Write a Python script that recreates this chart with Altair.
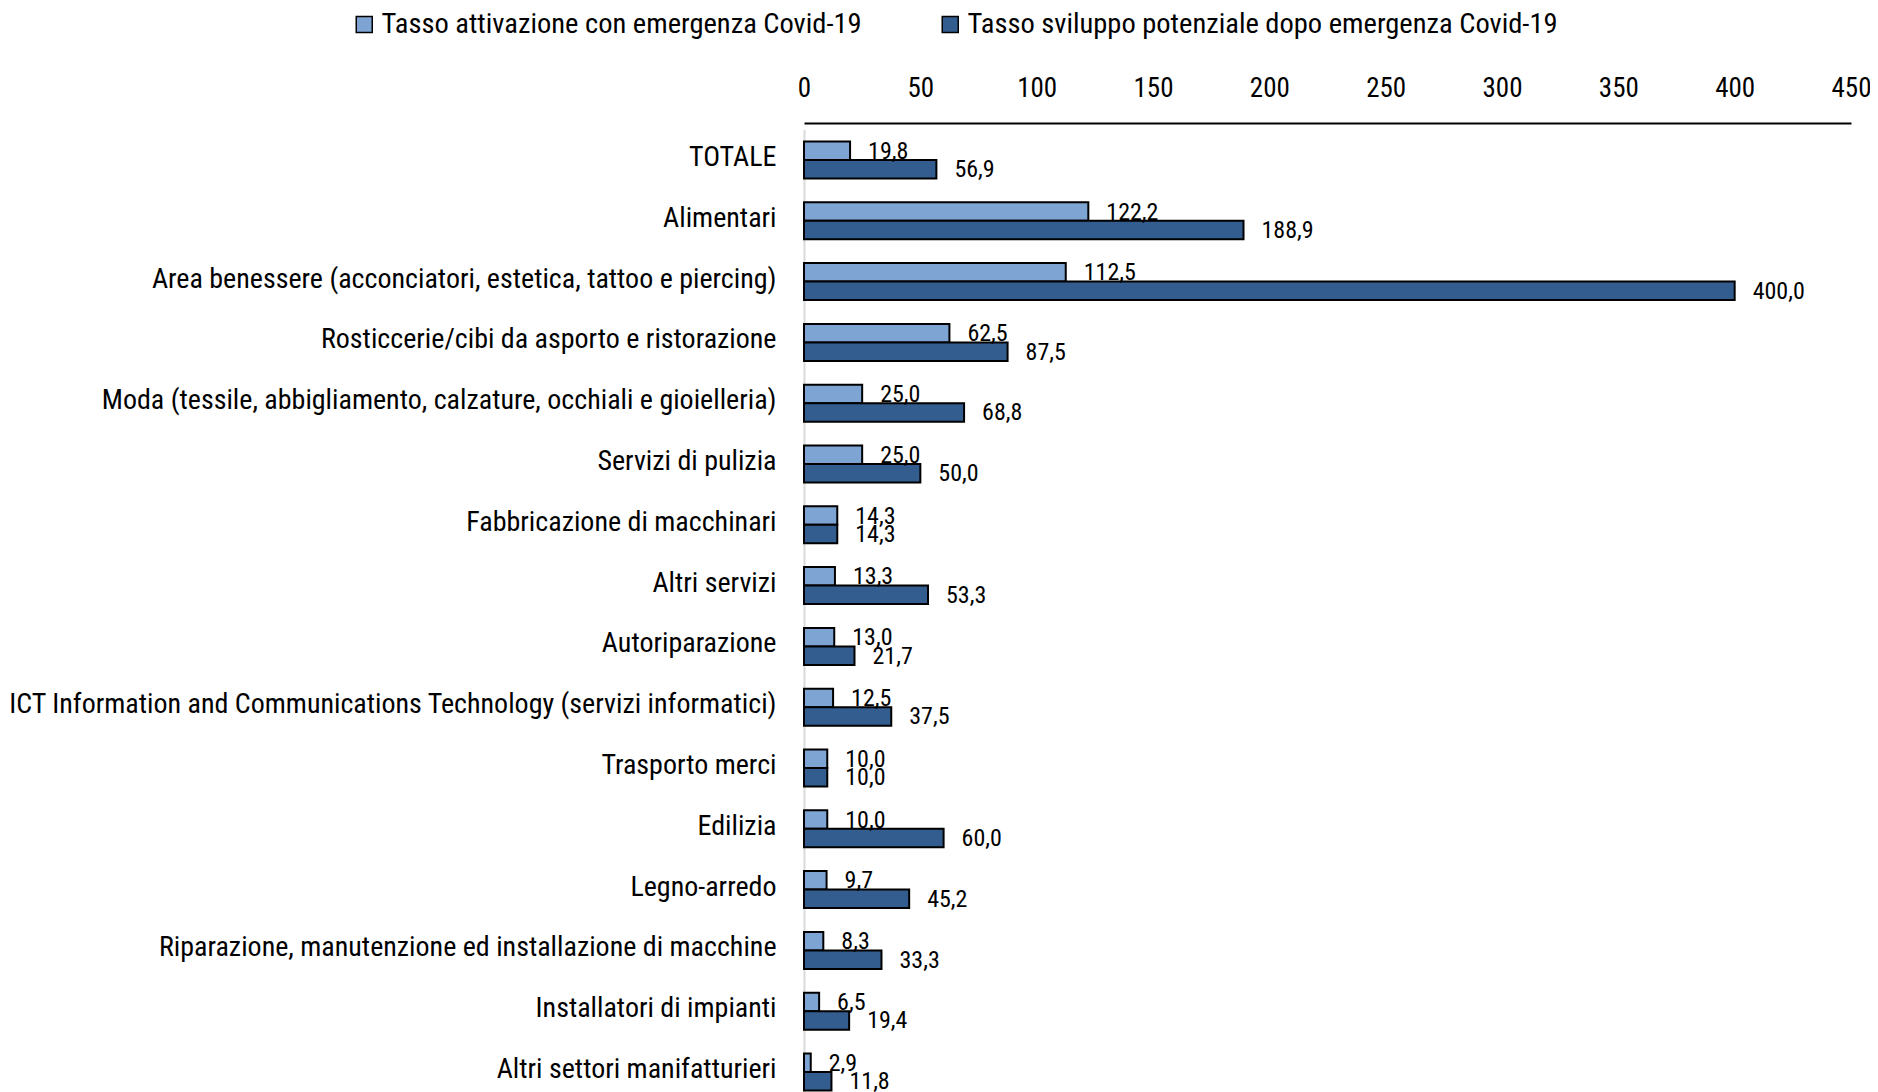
import altair as alt
import pandas as pd

categories = [
    "TOTALE",
    "Alimentari\u00a0",
    "Area benessere (acconciatori, estetica, tattoo e piercing)",
    "Rosticcerie/cibi da asporto e ristorazione",
    "Moda (tessile, abbigliamento, calzature, occhiali e gioielleria)",
    "Servizi di pulizia",
    "Fabbricazione di macchinari",
    "Altri servizi",
    "Autoriparazione",
    "ICT Information and Communications Technology (servizi informatici)",
    "Trasporto merci",
    "Edilizia",
    "Legno-arredo",
    "Riparazione, manutenzione ed installazione di macchine",
    "Installatori di impianti",
    "Altri settori manifatturieri",
]
attivazione = [19.8, 122.2, 112.5, 62.5, 25.0, 25.0, 14.3, 13.3, 13.0, 12.5, 10.0, 10.0, 9.7, 8.3, 6.5, 2.9]
sviluppo = [56.9, 188.9, 400.0, 87.5, 68.8, 50.0, 14.3, 53.3, 21.7, 37.5, 10.0, 60.0, 45.2, 33.3, 19.4, 11.8]
series_names = [
    "Tasso attivazione con emergenza Covid-19",
    "Tasso sviluppo potenziale dopo emergenza Covid-19",
]
series_colors = ["#7EA4D3", "#335D8F"]
x_ticks = [0, 50, 100, 150, 200, 250, 300, 350, 400, 450]

rows = []
for cat, a, s in zip(categories, attivazione, sviluppo):
    for name, v in zip(series_names, (a, s)):
        rows.append({"cat": cat, "series": name, "value": v,
                     "label": f"{v:.1f}".replace(".", ",")})
df = pd.DataFrame(rows)

FONT = "Roboto Condensed, Liberation Sans, sans-serif"

y_enc = alt.Y("cat:N", sort=categories, title=None,
              scale=alt.Scale(domain=categories, range=[6.6, 979.4],
                              paddingInner=0, paddingOuter=0),
              axis=alt.Axis(domainColor="#d9d9d9", domainWidth=2, ticks=False,
                            labelFontSize=28, labelPadding=28, labelLimit=0,
                            labelOffset=-2, labelColor="black", labelFont=FONT))
yoff_enc = alt.YOffset("series:N", sort=series_names,
                       scale=alt.Scale(domain=series_names, paddingInner=0, paddingOuter=0.643))
x_enc = alt.X("value:Q", title=None,
              scale=alt.Scale(domain=[0, 450], nice=False, zero=True),
              axis=alt.Axis(orient="top", values=x_ticks, grid=False, ticks=False,
                            domainColor="black", domainWidth=2, labelFontSize=27,
                            labelPadding=21, labelColor="black", labelFont=FONT,
                            labelOverlap=False, labelFlush=False))

bars = alt.Chart(df).mark_bar(stroke="black", strokeWidth=2).encode(
    x=x_enc,
    y=y_enc,
    yOffset=yoff_enc,
    color=alt.Color("series:N", sort=series_names,
                    scale=alt.Scale(domain=series_names, range=series_colors),
                    legend=alt.Legend(title=None, orient="none", direction="horizontal",
                                      legendX=-454, legendY=-113,
                                      symbolType="square", symbolSize=256,
                                      symbolStrokeColor="black", symbolStrokeWidth=1.5,
                                      labelFontSize=28.5, labelFont=FONT, labelColor="black",
                                      labelOffset=3, columnPadding=74, labelLimit=0)),
)

labels = alt.Chart(df).mark_text(align="left", baseline="middle", dx=18, dy=1,
                                 fontSize=24, font=FONT, color="black").encode(
    x="value:Q",
    y=alt.Y("cat:N", sort=categories),
    yOffset=alt.YOffset("series:N", sort=series_names),
    text="label:N",
)

chart = alt.layer(bars, labels).properties(
    width=1047, height=969,
    autosize=alt.AutoSizeParams(type="none"),
    padding={"left": 796, "top": 115, "right": 19, "bottom": 0},
).configure_view(stroke=None)

chart.save("out.html", embed_options={"renderer": "svg", "actions": False})
